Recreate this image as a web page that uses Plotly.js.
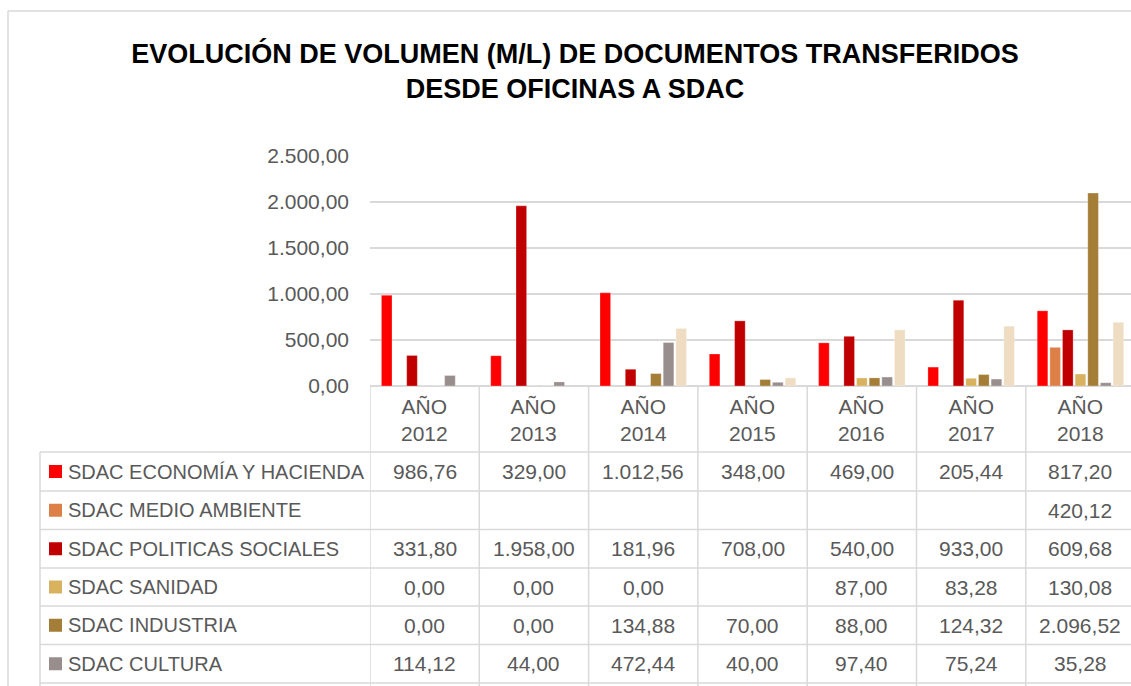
<!DOCTYPE html>
<html>
<head>
<meta charset="utf-8">
<script src="https://cdn.plot.ly/plotly-3.0.1.min.js"></script>
<style>
  html, body { margin: 0; padding: 0; background: #fff; }
  #chart { width: 1131px; height: 686px; }
</style>
</head>
<body>
<div id="chart"></div>
<script>
// ---------- DATA ----------
const years = ['AÑO 2012', 'AÑO 2013', 'AÑO 2014', 'AÑO 2015', 'AÑO 2016', 'AÑO 2017', 'AÑO 2018'];
const yearLabels = ['AÑO<br>2012', 'AÑO<br>2013', 'AÑO<br>2014', 'AÑO<br>2015', 'AÑO<br>2016', 'AÑO<br>2017', 'AÑO<br>2018'];

const economiaHacienda  = [986.76, 329.00, 1012.56, 348.00, 469.00, 205.44, 817.20];
const medioAmbiente     = [null, null, null, null, null, null, 420.12];
const politicasSociales = [331.80, 1958.00, 181.96, 708.00, 540.00, 933.00, 609.68];
const sanidad           = [0.00, 0.00, 0.00, null, 87.00, 83.28, 130.08];
const industria         = [0.00, 0.00, 134.88, 70.00, 88.00, 124.32, 2096.52];
const cultura           = [114.12, 44.00, 472.44, 40.00, 97.40, 75.24, 35.28];
// seventh series: its table row is cut off in the picture
const serieNoVisible    = [null, null, 625, 88, 610, 650, 692];

const seriesNames = ['SDAC ECONOMÍA Y HACIENDA', 'SDAC MEDIO AMBIENTE', 'SDAC POLITICAS SOCIALES',
                     'SDAC SANIDAD', 'SDAC INDUSTRIA', 'SDAC CULTURA', 'SDAC (fila no visible)'];
const seriesValues = [economiaHacienda, medioAmbiente, politicasSociales, sanidad, industria, cultura, serieNoVisible];
const tableRows = 6; // rows visible in the data table

const yTicks = [0, 500, 1000, 1500, 2000, 2500];

// ---------- STYLE ----------
const colors = ['#FF0000', '#DD8047', '#C00000', '#D9B25F', '#A47D37', '#998E8E', '#EEDDC3'];
const textColor = '#595959';
const gridColor = '#D9D9D9';
const FONT = 'Liberation Sans, Arial, sans-serif';

const W = 1131, H = 686;
const M = { l: 370, r: 0, t: 156, b: 300 };
const plotW = W - M.l - M.r, plotH = H - M.t - M.b;
const catW = 109.3;
const px2x = px => (px - M.l) / plotW;          // pixel -> paper x
const py2y = py => (H - M.b - py) / plotH;      // pixel -> paper y

const headerCenterY = 420;
const rowLinesY = [452, 491, 529.5, 568, 606, 644.5, 683];

function fmt(v) {
  if (v === null || v === undefined) return '';
  const parts = v.toFixed(2).split('.');
  parts[0] = parts[0].replace(/\B(?=(\d{3})+(?!\d))/g, '.');
  return parts[0] + ',' + parts[1];
}

// ---------- TRACES ----------
const traces = seriesValues.map((vals, i) => ({
  type: 'bar',
  name: seriesNames[i],
  x: years,
  y: vals,
  marker: { color: colors[i], line: { width: 0.6, color: 'rgba(255,255,255,0.45)' } },
  hoverinfo: 'x+y+name'
}));

// ---------- TABLE (shapes + annotations) ----------
const shapes = [];
const annotations = [];

// outer chart border (top and left)
shapes.push({ type: 'line', xref: 'paper', yref: 'paper', x0: px2x(8), x1: px2x(W + 5), y0: py2y(11), y1: py2y(11),
              line: { color: gridColor, width: 1.5 } });
shapes.push({ type: 'line', xref: 'paper', yref: 'paper', x0: px2x(8), x1: px2x(8), y0: py2y(11), y1: py2y(H + 5),
              line: { color: gridColor, width: 1.5 } });

// vertical column separators at category boundaries
for (let i = 0; i <= years.length; i++) {
  shapes.push({ type: 'line', xref: 'x', yref: 'paper', x0: i - 0.5, x1: i - 0.5, y0: 0, y1: py2y(H + 5),
                line: { color: gridColor, width: 1.5 } });
}
// left border of label column
shapes.push({ type: 'line', xref: 'paper', yref: 'paper', x0: px2x(40), x1: px2x(40), y0: py2y(rowLinesY[0]), y1: py2y(H + 5),
              line: { color: gridColor, width: 1.5 } });
// horizontal row lines
rowLinesY.forEach(py => {
  shapes.push({ type: 'line', xref: 'paper', yref: 'paper', x0: px2x(40), x1: px2x(W + 5), y0: py2y(py), y1: py2y(py),
                line: { color: gridColor, width: 1.5 } });
});

// header: year labels
yearLabels.forEach((lab, i) => {
  annotations.push({ xref: 'x', yref: 'paper', x: years[i], y: py2y(headerCenterY), text: lab, showarrow: false,
                     xanchor: 'center', yanchor: 'middle', font: { family: FONT, size: 21, color: textColor } });
});

// rows: legend keys, labels and values
for (let r = 0; r < tableRows; r++) {
  const cy = (rowLinesY[r] + rowLinesY[r + 1]) / 2;
  shapes.push({ type: 'rect', xref: 'paper', yref: 'paper', x0: px2x(49), x1: px2x(62), y0: py2y(cy + 6.5), y1: py2y(cy - 6.5),
                fillcolor: colors[r], line: { width: 0 } });
  annotations.push({ xref: 'paper', yref: 'paper', x: px2x(66), y: py2y(cy), text: seriesNames[r], showarrow: false,
                     xanchor: 'left', yanchor: 'middle', font: { family: FONT, size: 20, color: textColor } });
  seriesValues[r].forEach((v, i) => {
    if (v === null) return;
    annotations.push({ xref: 'x', yref: 'paper', x: years[i], y: py2y(cy), text: fmt(v), showarrow: false,
                       xanchor: 'center', yanchor: 'middle', font: { family: FONT, size: 21, color: textColor } });
  });
}

// ---------- LAYOUT ----------
const layout = {
  width: W, height: H,
  margin: M,
  paper_bgcolor: '#FFFFFF', plot_bgcolor: '#FFFFFF',
  separators: ',.',
  showlegend: false,
  barmode: 'group',
  bargap: 0.19,
  bargroupgap: 0.16,
  title: {
    text: 'EVOLUCIÓN DE VOLUMEN (M/L) DE DOCUMENTOS TRANSFERIDOS<br>DESDE OFICINAS A SDAC',
    font: { family: FONT, size: 27, color: '#000000', weight: 'bold' },
    xref: 'container', yref: 'container',
    x: 575 / W, xanchor: 'center',
    y: 1 - 63 / H, yanchor: 'middle'
  },
  xaxis: {
    type: 'category',
    range: [-0.5, -0.5 + plotW / catW],
    showticklabels: false,
    showgrid: false,
    zeroline: false,
    showline: false,
    ticks: ''
  },
  yaxis: {
    range: [0, 2500],
    tickvals: yTicks,
    tickformat: ',.2f',
    showgrid: true,
    gridcolor: gridColor,
    gridwidth: 1.5,
    zeroline: true,
    zerolinecolor: gridColor,
    zerolinewidth: 1.5,
    showline: false,
    ticks: '',
    ticklabelstandoff: 20,
    tickfont: { family: FONT, size: 21, color: textColor }
  },
  shapes: shapes,
  annotations: annotations
};

Plotly.newPlot('chart', traces, layout, { displayModeBar: false, staticPlot: false });
</script>
</body>
</html>
